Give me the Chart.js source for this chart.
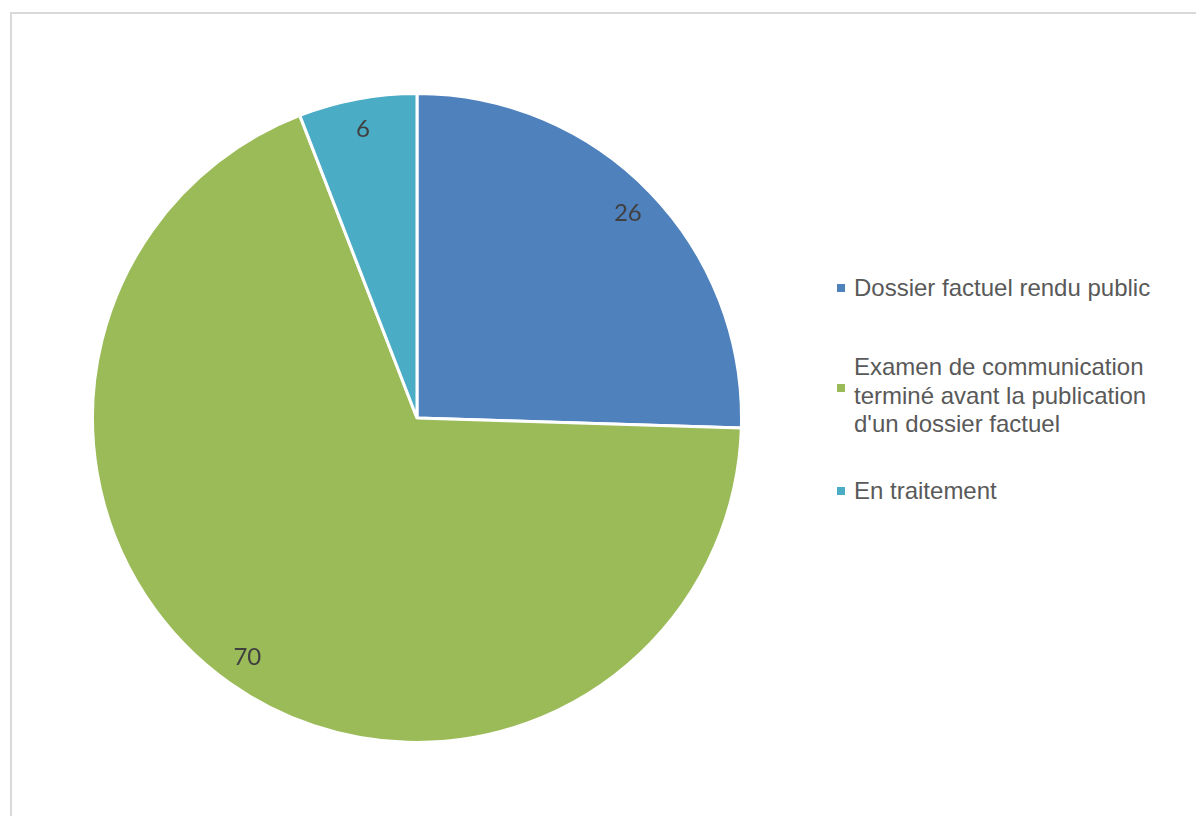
<!DOCTYPE html>
<html>
<head>
<meta charset="utf-8">
<script src="https://cdn.jsdelivr.net/npm/chart.js@4"></script>
<style>
  body { margin: 0; background: #fff; width: 1196px; height: 816px; overflow: hidden; position: relative; }
  #frame { position: absolute; left: 10px; top: 12px; width: 1200px; height: 820px;
           border-left: 2px solid #d9d9d9; border-top: 2px solid #d9d9d9; }
  #pie-box { position: absolute; left: 91px; top: 92px; width: 652px; height: 652px; }
  .leg { position: absolute; left: 837px; font-family: "Liberation Sans", Arial, sans-serif;
         font-size: 24px; color: #595959; line-height: 28.5px; }
  .leg .mark { position: absolute; left: 0; width: 8px; height: 8px; }
  .leg .txt { position: absolute; left: 17px; white-space: nowrap; }
</style>
</head>
<body>
<div id="frame"></div>
<div id="pie-box"><canvas id="pieChart"></canvas></div>
<div id="legend"></div>
<script>
// chart data
const categories = [
    "Dossier factuel rendu public",
    "Examen de communication terminé avant la publication d'un dossier factuel",
    "En traitement"
];
const legendLines = [
    ["Dossier factuel rendu public"],
    ["Examen de communication", "terminé avant la publication", "d'un dossier factuel"],
    ["En traitement"]
];
const values = [26, 70, 6];
const colors = ["#4f81bd", "#9bbb59", "#4bacc6"];

// legend layout (center y of the text block, marker center y)
const legendCenters = [288, 396, 491];
const markerCenters = [288, 388, 491];

const legendBox = document.getElementById("legend");
legendLines.forEach((lines, i) => {
    const item = document.createElement("div");
    item.className = "leg";
    const h = lines.length * 28.5;
    item.style.top = (legendCenters[i] - h / 2) + "px";
    const mark = document.createElement("div");
    mark.className = "mark";
    mark.style.background = colors[i];
    mark.style.top = (markerCenters[i] - (legendCenters[i] - h / 2) - 4) + "px";
    const txt = document.createElement("div");
    txt.className = "txt";
    txt.innerHTML = lines.join("<br>");
    item.appendChild(mark);
    item.appendChild(txt);
    legendBox.appendChild(item);
});

// draws the value inside each slice, near the outer edge
const valueLabels = {
    id: "valueLabels",
    afterDatasetsDraw(chart) {
        const ctx = chart.ctx;
        const meta = chart.getDatasetMeta(0);
        ctx.save();
        ctx.font = "24px Lato, 'Open Sans', sans-serif";
        ctx.fillStyle = "#404040";
        ctx.textAlign = "center";
        ctx.textBaseline = "middle";
        meta.data.forEach((arc, i) => {
            const p = arc.getProps(["x", "y", "startAngle", "endAngle", "outerRadius"], true);
            const mid = (p.startAngle + p.endAngle) / 2;
            const d = p.outerRadius * 0.905;
            ctx.fillText(String(values[i]), p.x + Math.cos(mid) * d, p.y + Math.sin(mid) * d);
        });
        ctx.restore();
    }
};

new Chart(document.getElementById("pieChart"), {
    type: "pie",
    data: {
        labels: categories,
        datasets: [{
            data: values,
            backgroundColor: colors,
            borderColor: "#ffffff",
            borderWidth: 3
        }]
    },
    options: {
        responsive: true,
        maintainAspectRatio: false,
        animation: false,
        plugins: {
            legend: { display: false },
            tooltip: { enabled: false }
        }
    },
    plugins: [valueLabels]
});
</script>
</body>
</html>
